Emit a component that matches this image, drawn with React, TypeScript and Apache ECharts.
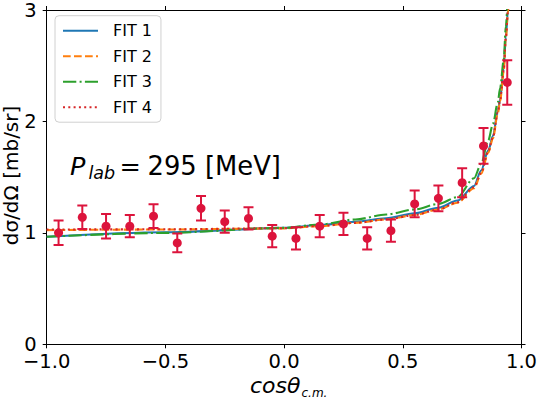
import React, { useEffect, useRef } from "react";
import * as echarts from "echarts";

// Measured data points (cos theta c.m., dσ/dΩ, error)
const dataX = [-0.95, -0.85, -0.75, -0.65, -0.55, -0.45, -0.35, -0.25, -0.15, -0.05, 0.05, 0.15, 0.25, 0.35, 0.45, 0.55, 0.65, 0.75, 0.84, 0.94];
const dataY = [1.0, 1.14, 1.06, 1.06, 1.15, 0.91, 1.22, 1.1, 1.13, 0.97, 0.95, 1.06, 1.08, 0.95, 1.02, 1.26, 1.31, 1.45, 1.78, 2.35];
const dataErr = [0.11, 0.105, 0.11, 0.1, 0.107, 0.085, 0.11, 0.1, 0.1, 0.1, 0.1, 0.1, 0.1, 0.1, 0.1, 0.12, 0.115, 0.13, 0.16, 0.2];

// Fit curves (sampled at fitX)
const fitX = [-1, -0.5, 0, 0.15, 0.3, 0.43, 0.55, 0.65, 0.73, 0.8, 0.83, 0.86, 0.88, 0.9, 0.91, 0.925, 0.934, 0.943, 0.95];
const fit1 = [0.965, 1.005, 1.045, 1.07, 1.1, 1.13, 1.175, 1.225, 1.29, 1.42, 1.56, 1.74, 1.87, 2.09, 2.2, 2.47, 2.76, 3.0, 3.3];
const fit2 = [1.025, 1.03, 1.04, 1.06, 1.09, 1.12, 1.16, 1.21, 1.27, 1.4, 1.53, 1.72, 1.85, 2.07, 2.18, 2.45, 2.74, 2.98, 3.3];
const fit3 = [0.965, 1.0, 1.045, 1.075, 1.12, 1.165, 1.21, 1.26, 1.32, 1.49, 1.62, 1.83, 1.98, 2.17, 2.3, 2.55, 2.85, 3.1, 3.4];
const fit4 = [1.03, 1.032, 1.042, 1.062, 1.09, 1.12, 1.16, 1.21, 1.275, 1.41, 1.54, 1.73, 1.86, 2.08, 2.19, 2.46, 2.75, 2.99, 3.3];

const fitNames = ["FIT 1", "FIT 2", "FIT 3", "FIT 4"];
const xTicks = { min: -1, max: 1, interval: 0.5 };
const yTicks = { min: 0, max: 3, interval: 1 };

const FONT = "DejaVu Sans";
const POINT_COLOR = "#dc143c";

export default function App() {
  const ref = useRef<HTMLDivElement>(null);
  useEffect(() => {
    if (!ref.current) return;
    const chart = echarts.init(ref.current, undefined, { renderer: "svg" });
    const fits = [fit1, fit2, fit3, fit4];
    const colors = ["#1f77b4", "#ff7f0e", "#2ca02c", "#d62728"];
    const dashes: any[] = ["solid", [7.7, 3.3], [13.3, 3.3, 2, 3.3], [2, 3.3]];
    const fmtX = (v: number) => v.toFixed(1).replace("-", "\u2212");
    const axisCommon = {
      axisLine: { show: true, onZero: false, lineStyle: { color: "#000", width: 1 } },
      axisTick: { show: true, inside: false, length: 4, lineStyle: { color: "#000", width: 1 } },
      splitLine: { show: false },
    };
    const option: any = {
      animation: false,
      backgroundColor: "#fff",
      grid: { left: 46.7, right: 16.3, top: 6.7, bottom: 54.7, containLabel: false },
      xAxis: [
        {
          type: "value", position: "bottom", ...xTicks, ...axisCommon,
          axisLabel: { show: true, margin: 7, color: "#000", fontFamily: FONT, fontSize: 19.5, formatter: fmtX },
        },
        {
          type: "value", position: "top", ...xTicks, ...axisCommon,
          axisLabel: { show: false },
        },
      ],
      yAxis: [
        {
          type: "value", position: "left", ...yTicks, ...axisCommon,
          axisLabel: { show: true, margin: 10, color: "#000", fontFamily: FONT, fontSize: 19.5 },
        },
        {
          type: "value", position: "right", ...yTicks, ...axisCommon,
          axisLabel: { show: false },
        },
      ],
      legend: {
        orient: "vertical",
        left: 55,
        top: 15.7,
        padding: [7, 9, 7, 7],
        itemWidth: 35,
        itemHeight: 16,
        itemGap: 9.5,
        borderColor: "#d0d0d0",
        borderWidth: 1,
        borderRadius: 4,
        backgroundColor: "rgba(255,255,255,0.8)",
        itemStyle: { opacity: 0, borderWidth: 0 },
        textStyle: { fontFamily: FONT, fontSize: 16, color: "#000", padding: [0, 0, 0, 10] },
        data: fitNames,
      },
      series: [
        ...fits.map((f, i) => ({
          name: fitNames[i],
          type: "line",
          xAxisIndex: 0,
          yAxisIndex: 0,
          data: fitX.map((x, j) => [x, f[j]]),
          symbol: "none",
          smooth: 0.3,
          smoothMonotone: "x",
          clip: true,
          color: colors[i],
          lineStyle: { color: colors[i], width: 2.1, type: dashes[i] },
          z: 2,
        })),
        {
          type: "custom",
          xAxisIndex: 0,
          yAxisIndex: 0,
          z: 3,
          clip: true,
          data: dataX.map((x, i) => [x, dataY[i], dataErr[i]]),
          encode: { x: 0, y: 1 },
          renderItem: (params: any, api: any) => {
            const x = api.value(0);
            const y = api.value(1);
            const e = api.value(2);
            const top = api.coord([x, y + e]);
            const bot = api.coord([x, y - e]);
            const hw = 5;
            const style = { stroke: POINT_COLOR, lineWidth: 2, fill: "none" };
            return {
              type: "group",
              children: [
                { type: "line", shape: { x1: top[0], y1: top[1], x2: bot[0], y2: bot[1] }, style },
                { type: "line", shape: { x1: top[0] - hw, y1: top[1], x2: top[0] + hw, y2: top[1] }, style },
                { type: "line", shape: { x1: bot[0] - hw, y1: bot[1], x2: bot[0] + hw, y2: bot[1] }, style },
              ],
            };
          },
        },
        {
          type: "scatter",
          xAxisIndex: 0,
          yAxisIndex: 0,
          z: 4,
          symbol: "circle",
          symbolSize: 9,
          itemStyle: { color: POINT_COLOR, opacity: 1 },
          data: dataX.map((x, i) => [x, dataY[i]]),
        },
      ],
      graphic: [
        {
          type: "text", x: 11, y: 175.5, rotation: Math.PI / 2,
          style: { text: "dσ/dΩ [mb/sr]", fontFamily: FONT, fontSize: 20, fill: "#000", align: "center", verticalAlign: "middle" },
        },
        {
          type: "text", x: 300.5, y: 385.7,
          style: { text: "cosθ", fontFamily: FONT, fontStyle: "italic", fontSize: 22, fill: "#000", align: "right", verticalAlign: "middle" },
        },
        {
          type: "text", x: 301.5, y: 393,
          style: { text: "c.m.", fontFamily: FONT, fontStyle: "italic", fontSize: 12, fill: "#000", align: "left", verticalAlign: "middle" },
        },
        {
          type: "text", x: 70, y: 166,
          style: { text: "P", fontFamily: FONT, fontStyle: "italic", fontSize: 25.5, fill: "#000", align: "left", verticalAlign: "middle" },
        },
        {
          type: "text", x: 88.5, y: 173,
          style: { text: "lab", fontFamily: FONT, fontStyle: "italic", fontSize: 17.5, fill: "#000", align: "left", verticalAlign: "middle" },
        },
        {
          type: "text", x: 119.5, y: 166,
          style: { text: "=", fontFamily: FONT, fontSize: 25.5, fill: "#000", align: "left", verticalAlign: "middle" },
        },
        {
          type: "text", x: 147.5, y: 166,
          style: { text: "295 [MeV]", fontFamily: FONT, fontSize: 25.8, fill: "#000", align: "left", verticalAlign: "middle" },
        },
      ],
    };
    chart.setOption(option);
    return () => chart.dispose();
  }, []);
  return <div ref={ref} style={{ position: "fixed", left: 0, top: 0, width: 540, height: 399 }} />;
}
